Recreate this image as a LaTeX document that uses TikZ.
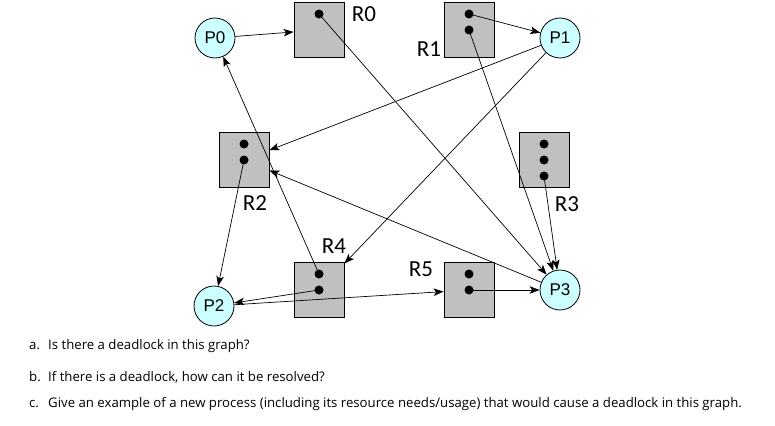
\documentclass[tikz,border=0pt]{standalone}
\usepackage{fontspec}
\setmainfont{Open Sans}
\newfontfamily\lblfont{Carlito}
\newfontfamily\procfont{Liberation Sans}
\usetikzlibrary{arrows.meta,positioning,calc}
\definecolor{cProc}{HTML}{CCFFFF}
\definecolor{cRes}{HTML}{C0C0C0}
\tikzset{
  proc/.style={circle,draw=black,fill=cProc,line width=0.8pt,minimum size=40pt,inner sep=0pt,font=\procfont\fontsize{17}{17}\selectfont},
  res/.style={draw=black,fill=cRes,line width=0.8pt,minimum width=50pt,minimum height=55pt,inner sep=0pt},
  tok/.style={circle,fill=black,minimum size=9pt,inner sep=0pt},
  arr/.style={-{Stealth[length=10pt,width=7.5pt,inset=2.5pt]},line width=0.7pt},
  lbl/.style={font=\lblfont\fontsize{23}{23}\selectfont,inner sep=0pt},
  qline/.style={font=\fontsize{13.2}{15}\selectfont,anchor=west,inner sep=0pt},
}

\begin{document}
\begin{tikzpicture}[x=1pt,y=-1pt]
  \fill[white] (0,0) rectangle (775,425);
  \useasboundingbox (0,0) rectangle (775,425);
  % processes
  \foreach \n/\x/\y in {P0/215/38,P1/560/38,P2/214/306,P3/560/290}{\node[proc] (\n) at (\x,\y) {\n};}
  % resources with their instances
  \foreach \n/\x/\y/\k in {R0/319/30/1,R1/469/30/2,R2/244/160/2,R3/544/160/3,R4/319/290/2,R5/469/290/2}{
    \node[res] (\n) at (\x,\y) {};
    \foreach \j in {1,...,\k}{\node[tok] (\n-\j) at ($(\n.center)+(0,{-32+16*\j})$) {};}}
  \node[lbl] (lR0) at (364,14) {R0};
  \node[lbl] (lR1) at (429,49) {R1};
  \node[lbl] (lR2) at (255,203) {R2};
  \node[lbl] (lR3) at (567,204) {R3};
  \node[lbl] (lR4) at (334,246) {R4};
  \node[lbl] (lR5) at (421,269) {R5};
  % requests and assignments
  \foreach \a/\b in {P0/R0,R0-1.center/P3,R1-1.center/P1,R1-2.center/P3,P1/R2,P1/R4,R2-2.center/P2,P3/R2,R3-3.center/P3,R4-1.center/P0,R4-2.center/P2,P2/R5,R5-2.center/P3}{\draw[arr] (\a) -- (\b);}
  % questions
  \node[qline] (qa) at (29,346) {\makebox[19pt][l]{a.}Is there a deadlock in this graph?};
  \node[qline] (qb) at (29,377) {\makebox[19pt][l]{b.}If there is a deadlock, how can it be resolved?};
  \node[qline] (qc) at (29,404) {\makebox[19pt][l]{c.}Give an example of a new process (including its resource needs/usage) that would cause a deadlock in this graph.};
\end{tikzpicture}
\end{document}
